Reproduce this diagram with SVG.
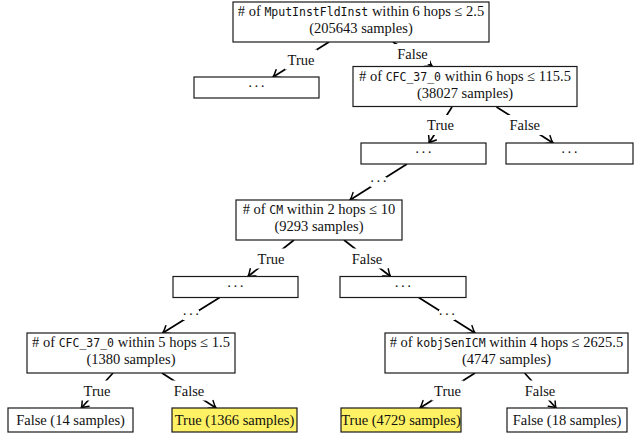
<svg xmlns="http://www.w3.org/2000/svg" width="635" height="435" viewBox="0 0 635 435">
<style>
.box{fill:#fff;stroke:#1a1a1a;stroke-width:1.2}
.leaf{fill:#fef164;stroke:#1a1a1a;stroke-width:1.2}
.t{font-family:"Liberation Serif",serif;font-size:14.5px;fill:#111;text-anchor:middle}
.m{font-family:"DejaVu Sans Mono","Liberation Mono",monospace;font-size:11.5px}
.dots{font-family:"Liberation Serif",serif;font-size:14.5px;fill:#111;text-anchor:middle;letter-spacing:1.5px}
.e{stroke:#000;stroke-width:1.7;fill:none;marker-end:url(#arr)}
.lb{fill:#fff;stroke:none}
</style>
<defs>
<marker id="arr" markerUnits="userSpaceOnUse" viewBox="-8 -6 10 12" refX="0" refY="0" markerWidth="10" markerHeight="12" orient="auto">
<path d="M-6.5,-4.6 Q-2.5,-1.2 0,0 Q-2.5,1.2 -6.5,4.6" fill="none" stroke="#000" stroke-width="1.5" stroke-linecap="round"/>
</marker>
</defs>
<rect width="635" height="435" fill="#fff"/>
<g id="connectors">
<line class="e" x1="329" y1="42" x2="273" y2="77"/>
<line class="e" x1="393" y1="42" x2="432" y2="66"/>
<line class="e" x1="452" y1="107" x2="429" y2="143"/>
<line class="e" x1="496.5" y1="107" x2="553" y2="143"/>
<line class="e" x1="407" y1="164" x2="350" y2="200"/>
<line class="e" x1="294" y1="240" x2="248" y2="276.5"/>
<line class="e" x1="344" y1="240" x2="390.5" y2="276.5"/>
<line class="e" x1="219.7" y1="297.5" x2="162.7" y2="333"/>
<line class="e" x1="418.7" y1="297.5" x2="475" y2="333"/>
<line class="e" x1="113" y1="373" x2="81.3" y2="408"/>
<line class="e" x1="162" y1="373" x2="216" y2="408"/>
<line class="e" x1="475" y1="373" x2="420" y2="408"/>
<line class="e" x1="524.6" y1="373" x2="556" y2="408"/>
<rect class="lb" x="285" y="49.5" width="32" height="20"/>
<text class="t" x="301" y="64.5">True</text>
<rect class="lb" x="395" y="44" width="35" height="20"/>
<text class="t" x="412.5" y="59">False</text>
<rect class="lb" x="424.5" y="115" width="32" height="20"/>
<text class="t" x="440.5" y="130">True</text>
<rect class="lb" x="507.2" y="115" width="35" height="20"/>
<text class="t" x="524.7" y="130">False</text>
<rect class="lb" x="370.5" y="177" width="16" height="10"/>
<text class="dots" x="379.2" y="185.6">···</text>
<rect class="lb" x="255" y="248.5" width="32" height="20"/>
<text class="t" x="271" y="263.5">True</text>
<rect class="lb" x="349.5" y="248.5" width="35" height="20"/>
<text class="t" x="367" y="263.5">False</text>
<rect class="lb" x="183" y="310" width="16" height="10"/>
<text class="dots" x="191.7" y="318.6">···</text>
<rect class="lb" x="439" y="310" width="16" height="10"/>
<text class="dots" x="447.7" y="318.6">···</text>
<rect class="lb" x="81" y="380.5" width="32" height="20"/>
<text class="t" x="97" y="395.5">True</text>
<rect class="lb" x="171.5" y="380.5" width="35" height="20"/>
<text class="t" x="189" y="395.5">False</text>
<rect class="lb" x="431.5" y="380.5" width="32" height="20"/>
<text class="t" x="447.5" y="395.5">True</text>
<rect class="lb" x="522.5" y="380.5" width="35" height="20"/>
<text class="t" x="540" y="395.5">False</text>
</g>
<g id="root">
<rect class="box" x="233" y="2" width="256" height="40"/>
<text class="t" x="361" y="16"># of <tspan class="m">MputInstFldInst</tspan> within 6 hops ≤ 2.5</text>
<text class="t" x="361" y="33">(205643 samples)</text>
</g>
<g id="n_true1">
<rect class="box" x="194" y="77" width="125" height="21"/>
<text class="dots" x="257.2" y="91.1">···</text>
</g>
<g id="n_cfc6">
<rect class="box" x="353" y="66.5" width="224" height="40"/>
<text class="t" x="465" y="80.5"># of <tspan class="m">CFC_37_0</tspan> within 6 hops ≤ 115.5</text>
<text class="t" x="465" y="97.5">(38027 samples)</text>
</g>
<g id="n_dots2">
<rect class="box" x="361" y="143" width="125" height="21"/>
<text class="dots" x="424.2" y="157.1">···</text>
</g>
<g id="n_dots3">
<rect class="box" x="506" y="143" width="127" height="21"/>
<text class="dots" x="570.2" y="157.1">···</text>
</g>
<g id="n_cm">
<rect class="box" x="236" y="200" width="166" height="40"/>
<text class="t" x="319" y="214"># of <tspan class="m">CM</tspan> within 2 hops ≤ 10</text>
<text class="t" x="319" y="231">(9293 samples)</text>
</g>
<g id="n_dotsL4">
<rect class="box" x="173" y="276.5" width="125" height="21"/>
<text class="dots" x="236.2" y="290.6">···</text>
</g>
<g id="n_dotsR4">
<rect class="box" x="340" y="276.5" width="126" height="21"/>
<text class="dots" x="403.7" y="290.6">···</text>
</g>
<g id="n_cfc5">
<rect class="box" x="27" y="333" width="208" height="40"/>
<text class="t" x="131" y="347"># of <tspan class="m">CFC_37_0</tspan> within 5 hops ≤ 1.5</text>
<text class="t" x="131" y="364">(1380 samples)</text>
</g>
<g id="n_kobj">
<rect class="box" x="385" y="333" width="243" height="40"/>
<text class="t" x="506.5" y="347"># of <tspan class="m">kobjSenICM</tspan> within 4 hops ≤ 2625.5</text>
<text class="t" x="506.5" y="364">(4747 samples)</text>
</g>
<g id="n_f14">
<rect class="box" x="8" y="408" width="125" height="24"/>
<text class="t" x="70.5" y="425">False (14 samples)</text>
</g>
<g id="n_t1366">
<rect class="leaf" x="172" y="408" width="125" height="24"/>
<text class="t" x="234.5" y="425">True (1366 samples)</text>
</g>
<g id="n_t4729">
<rect class="leaf" x="341" y="408" width="120" height="24"/>
<text class="t" x="401" y="425">True (4729 samples)</text>
</g>
<g id="n_f18">
<rect class="box" x="507" y="408" width="120" height="24"/>
<text class="t" x="567" y="425">False (18 samples)</text>
</g>
</svg>
